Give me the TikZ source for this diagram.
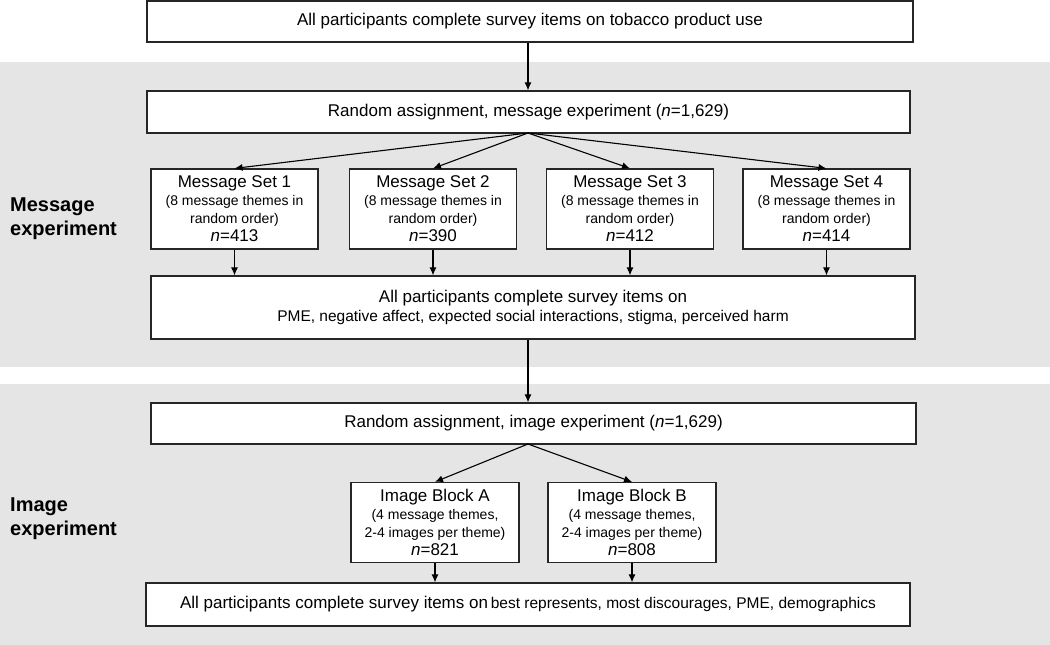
\documentclass[tikz,border=0pt]{standalone}
\usepackage{fontspec}
\setmainfont{Liberation Sans}
\usetikzlibrary{arrows.meta}
\begin{document}
\begin{tikzpicture}[x=1pt,y=-1pt,
  box/.style={draw=black!85,line width=1.2pt,fill=white,inner sep=0pt,align=center,text=black},
  big/.style={font=\fontsize{17}{20}\selectfont},
  setbox/.style={box,font=\fontsize{14}{18}\selectfont,minimum height=80pt},
  arr/.style={draw=black,line width=1.1pt,-{Latex[length=8pt,width=7pt]}},
  lbl/.style={font=\fontsize{20}{24}\selectfont\bfseries,align=left,anchor=west,inner sep=0pt}]
\useasboundingbox (0,0) rectangle (1050,645);
\fill[white] (0,0) rectangle (1050,645);
\fill[black!10] (0,62) rectangle (1050,367);
\fill[black!10] (0,384) rectangle (1050,645);
\node[box,big,minimum width=766pt,minimum height=41pt] (top) at (530,21.5) {All participants complete survey items on tobacco product use};
\node[box,big,minimum width=763pt,minimum height=42pt] (ra1) at (528.5,112) {Random assignment, message experiment (\textit{n}=1,629)};
\foreach \i/\x/\n in {1/234.5/413,2/433/390,3/630/412,4/826.5/414}{
  \node[setbox,minimum width=167pt] (ms\i) at (\x,209) {{\fontsize{17}{18}\selectfont Message Set \i}\\(8 message themes in\\random order)\\{\fontsize{17}{18}\selectfont \textit{n}=\n}};
}
\node[box,font=\fontsize{15.5}{19}\selectfont,minimum width=764pt,minimum height=63pt] (sv1) at (533,307.5) {{\fontsize{17}{19}\selectfont All participants complete survey items on}\\PME, negative affect, expected social interactions, stigma, perceived harm};
\node[box,big,minimum width=765pt,minimum height=41pt] (ra2) at (533.5,423.5) {Random assignment, image experiment (\textit{n}=1,629)};
\node[setbox,minimum width=168pt] (bA) at (435,522.5) {{\fontsize{17}{18}\selectfont Image Block A}\\(4 message themes,\\2-4 images per theme)\\{\fontsize{17}{18}\selectfont \textit{n}=821}};
\node[setbox,minimum width=168pt] (bB) at (632,522.5) {{\fontsize{17}{18}\selectfont Image Block B}\\(4 message themes,\\2-4 images per theme)\\{\fontsize{17}{18}\selectfont \textit{n}=808}};
\node[box,minimum width=764pt,minimum height=43pt] (fin) at (528,604.5) {{\fontsize{17}{20}\selectfont All participants complete survey items on} {\fontsize{15.5}{19}\selectfont best represents, most discourages, PME, demographics}};
\node[lbl] (lm) at (10,219) {Message\\experiment};
\node[lbl] (li) at (10,518.5) {Image\\experiment};
\coordinate (c1) at (528,42);
\draw[arr] (top.south -| c1) -- (ra1.north -| c1);
\coordinate (r1) at (528,133);
\foreach \i in {1,...,4}{\draw[arr] (r1) -- (ms\i.north);}
\foreach \i in {1,...,4}{\draw[arr] (ms\i.south) -- (ms\i.south |- sv1.north);}
\draw[arr] (sv1.south -| c1) -- (ra2.north -| c1);
\coordinate (r2) at (528,444);
\draw[arr] (r2) -- (bA.north);
\draw[arr] (r2) -- (bB.north);
\draw[arr] (bA.south) -- (bA.south |- fin.north);
\draw[arr] (bB.south) -- (bB.south |- fin.north);
\end{tikzpicture}
\end{document}
